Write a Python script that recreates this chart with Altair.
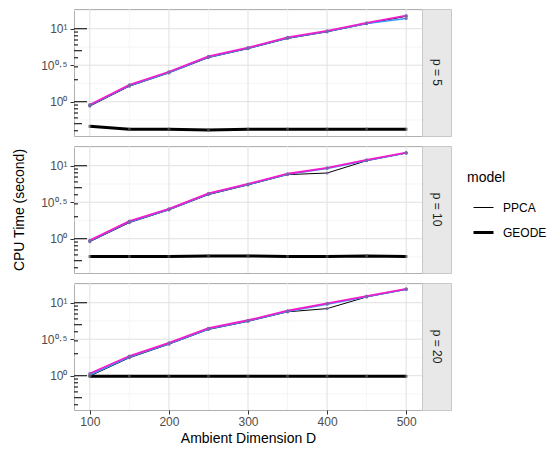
import altair as alt
import pandas as pd

# ---------------- data ----------------
D = [100, 150, 200, 250, 300, 350, 400, 450, 500]
p_levels = [5, 10, 20]

ppca_p5 = [0.87, 1.63, 2.48, 4.02, 5.33, 7.35, 9.05, 11.7, 14.8]
blue_p5 = [0.89, 1.66, 2.52, 4.08, 5.40, 7.45, 9.15, 11.8, 13.8]
mag_p5 = [0.91, 1.70, 2.57, 4.17, 5.50, 7.59, 9.33, 12.0, 15.1]
geode_p5 = [0.46, 0.42, 0.42, 0.41, 0.42, 0.42, 0.42, 0.42, 0.42]

ppca_p10 = [0.91, 1.66, 2.48, 4.02, 5.45, 7.55, 7.94, 11.7, 14.9]
blue_p10 = [0.93, 1.70, 2.52, 4.10, 5.52, 7.62, 9.20, 11.8, 14.9]
mag_p10 = [0.95, 1.74, 2.57, 4.17, 5.62, 7.76, 9.33, 12.0, 15.1]
geode_p10 = [0.57, 0.57, 0.57, 0.58, 0.58, 0.57, 0.57, 0.58, 0.57]

ppca_p20 = [0.99, 1.76, 2.70, 4.30, 5.55, 7.50, 8.30, 12.0, 15.2]
blue_p20 = [1.02, 1.80, 2.75, 4.37, 5.62, 7.60, 9.55, 12.1, 15.3]
mag_p20 = [1.07, 1.86, 2.82, 4.47, 5.75, 7.76, 9.77, 12.3, 15.5]
geode_p20 = [0.98, 0.98, 0.98, 0.98, 0.98, 0.98, 0.98, 0.98, 0.98]

series_names = ["PPCA", "blue", "magenta", "GEODE"]
data_by_p = {
    5: [ppca_p5, blue_p5, mag_p5, geode_p5],
    10: [ppca_p10, blue_p10, mag_p10, geode_p10],
    20: [ppca_p20, blue_p20, mag_p20, geode_p20],
}

y_major = [1, 10 ** 0.5, 10]
y_minor = [10 ** -0.25, 10 ** 0.25, 10 ** 0.75, 10 ** 1.25]
x_major = [100, 200, 300, 400, 500]
x_minor = [150, 250, 350, 450]
log_long = [1, 10]
log_mid = [0.5, 5]
log_short = [0.4, 0.6, 0.7, 0.8, 0.9, 2, 3, 4, 6, 7, 8, 9]

rows = []
for p in p_levels:
    for name, vals in zip(series_names, data_by_p[p]):
        for d, v in zip(D, vals):
            rows.append({"D": d, "p": p, "series": name, "time": v})
df = pd.DataFrame(rows)

FONT = "Liberation Sans"
W, H, SW = 348, 127, 29

xscale = alt.Scale(domain=[80, 520], nice=False, zero=False)
yscale = alt.Scale(type="log", domain=[10 ** -0.47, 10 ** 1.27], nice=False)

label_expr = ("datum.value < 2 ? '10⁰' : (datum.value < 5 ? '10⁰·⁵' : '10¹')")

legend = alt.Legend(orient="none", legendX=393, legendY=162,
                    symbolType="stroke", symbolStrokeColor="black",
                    symbolSize=400, symbolOffset=5, titleFontSize=14,
                    titleFontWeight="normal", labelFontSize=12,
                    rowPadding=7, titlePadding=12, labelOffset=8)


def panel(p, bottom, show_ytitle):
    sub = df[df["p"] == p]
    if bottom:
        xaxis = alt.Axis(values=x_major, title="Ambient Dimension D", grid=False,
                         domain=False, tickSize=4, tickColor="#333333",
                         labelFontSize=12, labelColor="#4d4d4d", labelPadding=2,
                         titleFontSize=14, titlePadding=4, titleColor="black")
    else:
        xaxis = None
    yaxis = alt.Axis(values=y_major, labelExpr=label_expr, grid=False, domain=False,
                     tickSize=4, tickColor="#333333", labelFontSize=12,
                     labelColor="#4d4d4d", labelPadding=3,
                     title="CPU Time (second)" if show_ytitle else None,
                     titleFontSize=14, titlePadding=14, titleColor="black")

    def X(f):
        return alt.X(f, scale=xscale, axis=xaxis)

    def Y(f):
        return alt.Y(f, scale=yscale, axis=yaxis)

    ygrid_minor = alt.Chart(pd.DataFrame({"v": y_minor})).mark_rule(
        color="#f0f0f0", strokeWidth=0.7).encode(y=Y("v:Q"))
    ygrid_major = alt.Chart(pd.DataFrame({"v": y_major})).mark_rule(
        color="#e0e0e0", strokeWidth=1).encode(y=Y("v:Q"))
    xgrid_minor = alt.Chart(pd.DataFrame({"v": x_minor})).mark_rule(
        color="#f0f0f0", strokeWidth=0.7).encode(x=X("v:Q"))
    xgrid_major = alt.Chart(pd.DataFrame({"v": x_major})).mark_rule(
        color="#e0e0e0", strokeWidth=1).encode(x=X("v:Q"))

    def logticks(vals, length):
        return alt.Chart(pd.DataFrame({"v": vals})).mark_rule(
            color="#222222", strokeWidth=1.2).encode(
            y=Y("v:Q"), x=alt.value(0), x2=alt.value(length))

    base = alt.Chart(sub)
    model_lines = base.transform_filter(
        alt.FieldOneOfPredicate(field="series", oneOf=["PPCA", "GEODE"])
    ).mark_line(color="black").encode(
        x=X("D:Q"), y=Y("time:Q"),
        strokeWidth=alt.StrokeWidth(
            "series:N", title="model",
            scale=alt.Scale(domain=["PPCA", "GEODE"], range=[1, 3]),
            legend=legend))
    blue_line = base.transform_filter(alt.datum.series == "blue").mark_line(
        color="#3399ff", strokeWidth=1.6).encode(x=X("D:Q"), y=Y("time:Q"))
    mag_line = base.transform_filter(alt.datum.series == "magenta").mark_line(
        color="#f21ccb", strokeWidth=1.8).encode(x=X("D:Q"), y=Y("time:Q"))
    pts = base.transform_filter(alt.datum.series != "GEODE").mark_circle(
        size=10, color="#7a66a8", opacity=0.9).encode(x=X("D:Q"), y=Y("time:Q"))
    gpts = base.transform_filter(alt.datum.series == "GEODE").mark_square(
        size=8, color="#555555").encode(x=X("D:Q"), y=Y("time:Q"))

    layers = alt.layer(
        ygrid_minor, xgrid_minor, ygrid_major, xgrid_major,
        model_lines, blue_line, mag_line, pts, gpts,
        logticks(log_short, 4), logticks(log_mid, 8), logticks(log_long, 13),
    ).properties(width=W, height=H)

    strip_df = pd.DataFrame({"lab": [f"p = {p}"]})
    strip = alt.Chart(strip_df).mark_text(
        angle=90, fontSize=12, color="#1a1a1a", font=FONT).encode(
        x=alt.value(SW / 2), y=alt.value(H / 2), text="lab:N"
    ).properties(width=SW, height=H,
                 view=alt.ViewBackground(fill="#e8e8e8", stroke="#c8c8c8"))

    return alt.hconcat(layers, strip, spacing=0, bounds="flush")


chart = alt.vconcat(
    panel(5, False, False),
    panel(10, False, True),
    panel(20, True, False),
    spacing=8,
).properties(
    padding={"left": 4, "top": 0, "right": 0, "bottom": 0}
).configure_view(stroke="#b0b0b0", strokeWidth=1).configure_axis(
    labelFont=FONT, titleFont=FONT, titleFontWeight="normal"
).configure_legend(labelFont=FONT, titleFont=FONT)

chart.save("out.html", embed_options={"renderer": "svg", "actions": False})
